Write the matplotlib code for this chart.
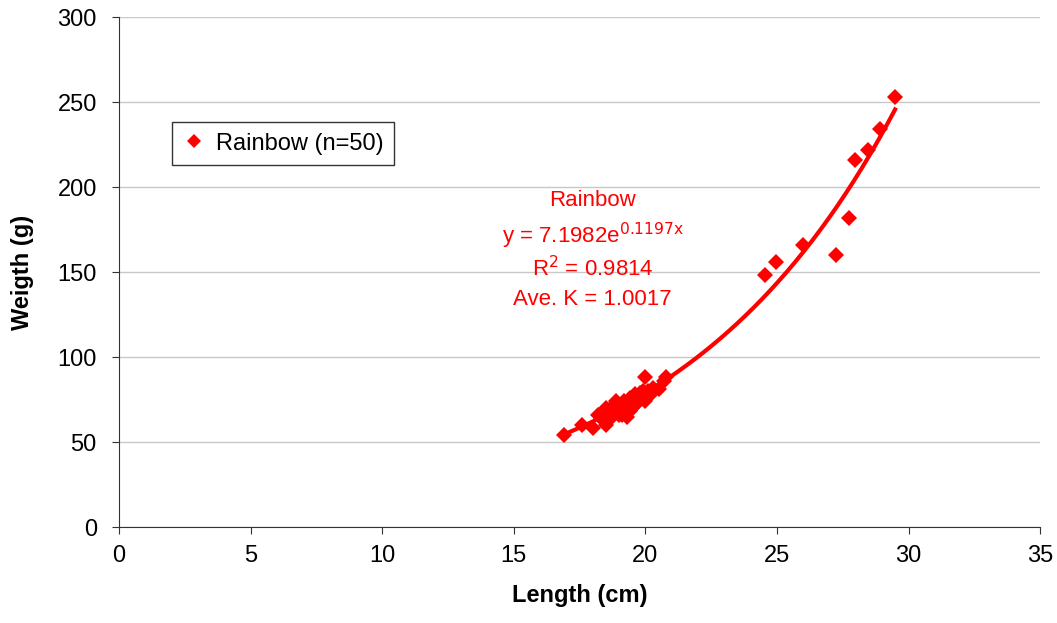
import matplotlib.pyplot as plt
import numpy as np

plt.rcParams['font.family'] = ['Liberation Sans', 'DejaVu Sans']

# length (cm) / weight (g) of rainbow trout
length = [16.9, 17.6, 18.0, 18.2, 18.4, 18.5, 18.6, 18.7, 18.8, 18.9,
          19.0, 19.1, 19.2, 19.3, 19.3, 19.4, 19.5, 19.5, 19.6, 19.7,
          19.8, 19.9, 20.0, 20.0, 20.1, 20.2, 20.3, 20.5, 20.7, 20.8,
          18.3, 18.6, 18.9, 19.1, 19.4, 19.6, 19.8, 20.0, 19.0, 18.5,
          19.7, 24.55, 24.97, 26.0, 27.25, 27.75, 27.97, 28.46, 28.92, 29.49]
weight = [54, 60, 58, 66, 66, 60, 68, 70, 68, 72,
          70, 66, 74, 65, 72, 76, 70, 74, 78, 73,
          76, 80, 88, 74, 80, 78, 82, 81, 86, 88,
          64, 63, 74, 71, 68, 72, 79, 77, 66, 70,
          75, 148, 156, 166, 160, 182, 216, 222, 234, 253]

# trendline from the chart's own equation
a, b = 7.1982, 0.1197

fig = plt.figure(figsize=(10.57, 6.23), dpi=100)
ax = fig.add_axes([0.1126, 0.154, 0.8714, 0.8187])

xs = np.linspace(min(length), max(length), 200)
ax.plot(xs, a * np.exp(b * xs), color='red', lw=3, zorder=3)
ax.plot(length, weight, 'D', color='red', markersize=8.5, markeredgewidth=0,
        label='Rainbow (n=50)', zorder=4)

ax.set_xlim(0, 35)
ax.set_ylim(0, 300)
ax.set_xticks(range(0, 36, 5))
ax.set_yticks(range(0, 301, 50))
ax.yaxis.grid(True, color='#c8c8c8', lw=1)
ax.set_axisbelow(True)
for s in ['top', 'right']:
    ax.spines[s].set_visible(False)
for s in ['left', 'bottom']:
    ax.spines[s].set_color('#333333')
ax.tick_params(labelsize=17, direction='out', length=5, color='#333333')
ax.tick_params(axis='y', pad=11)
ax.tick_params(axis='x', pad=8)

ax.set_xlabel('Length (cm)', fontsize=17, fontweight='bold', labelpad=12)
ax.set_ylabel('Weigth (g)', fontsize=17, fontweight='bold', labelpad=17)

ax.text(18.0, 192, 'Rainbow', color='red', fontsize=16, ha='center', va='center')
ax.text(18.0, 171, r'y = 7.1982e$^{\mathrm{0.1197x}}$', color='red', fontsize=16,
        ha='center', va='center')
ax.text(18.0, 152, r'R$^{2}$ = 0.9814', color='red', fontsize=16, ha='center', va='center')
ax.text(18.0, 134, 'Ave. K = 1.0017', color='red', fontsize=16, ha='center', va='center')

leg = ax.legend(loc='upper left', bbox_to_anchor=(0.0575, 0.794), borderaxespad=0,
                fontsize=17, frameon=True, fancybox=False, handletextpad=0.4,
                handlelength=1.0, borderpad=0.45, markerscale=0.8)
leg.get_frame().set_edgecolor('black')
leg.get_frame().set_linewidth(1)

fig.savefig('out.png', dpi=100)
